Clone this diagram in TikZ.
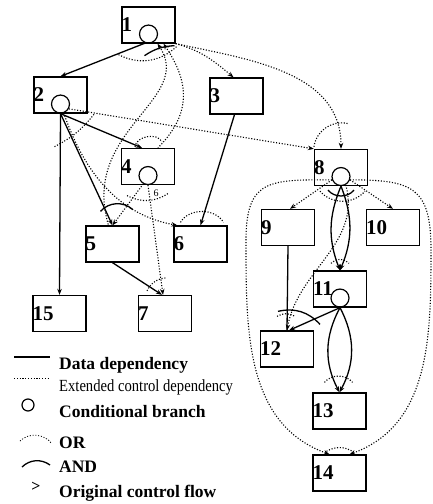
\documentclass[tikz,border=0pt]{standalone}
\usepackage{fontspec}
\setmainfont{Liberation Serif}
\usetikzlibrary{arrows.meta}
\begin{document}
\begin{tikzpicture}[>={Stealth[length=6pt,width=4.5pt]}, x=1pt, y=-1pt,
  box/.style={draw, line width=1.3pt, minimum width=53pt, minimum height=36pt, inner sep=0pt},
  num/.style={anchor=west, inner sep=0pt, font=\fontsize{21}{21}\selectfont\bfseries},
  cond/.style={draw, circle, line width=1.2pt, minimum size=18pt, inner sep=0pt, anchor=south},
  data/.style={line width=1.3pt},
  ctrl/.style={line width=1.1pt, dash pattern=on 1.1pt off 1.7pt},
  legend/.style={anchor=base west, inner sep=0pt, font=\fontsize{17.5}{17.5}\selectfont\bfseries}]
\useasboundingbox (0,0) rectangle (432,504);
% Cac khoi lenh
\node[box] (b1) at (148.5,25) {};
\node[box] (b2) at (60.5,95) {};
\node[box] (b3) at (236.5,96) {};
\node[box] (b4) at (148,166.5) {};
\node[box] (b5) at (112.5,244) {};
\node[box] (b6) at (200.5,244) {};
\node[box] (b7) at (165,313.5) {};
\node[box] (b8) at (341,167.5) {};
\node[box] (b9) at (288,227.5) {};
\node[box] (b10) at (393,227.5) {};
\node[box] (b11) at (340,289) {};
\node[box] (b12) at (287,349) {};
\node[box] (b13) at (339.5,411) {};
\node[box] (b14) at (339.5,473) {};
\node[box] (b15) at (59.5,313.5) {};
\foreach \n in {1,...,15}
\node[num] (n\n) at (b\n.west) {\n};
% re nhanh co dieu kien
\foreach \k in {1,2,4,8,11}
\node[cond] (c\k) at (b\k.south) {};
% Phu thuoc du lieu
\draw[data,->] (c1.250) -- (b2.north);
\draw[data,->] (c2.south) -- ([xshift=-6pt]b4.north);
\draw[data,->] (c2.south) -- (b5.north);
\draw[data,->] (c2.south) -- (b15.north);
\draw[data,->] ([xshift=-2pt]b3.south) -- (b6.north);
\draw[data,->] (b5.south) -- ([xshift=-3pt]b7.north);
\draw[data,->] (c8.south) to[bend right=22] (b11.north);
\draw[data,->] (c8.south) to[bend left=22] (b11.north);
\draw[data,->] (c11.south) to[bend right=28] (b13.north);
\draw[data,->] (c11.south) to[bend left=28] (b13.north);
\draw[data,->] (c11.south) -- ([xshift=2pt]b12.north);
\draw[data] (b9.south) -- (b12.north);
% Phu thuoc dieu khien mo rong
\draw[ctrl,->] (b1.south east) to[out=-15,in=140] ([xshift=-3pt]b3.north);
\draw[ctrl,->] (b1.south east) to[out=-12,in=90] (b8.north);
\draw[ctrl,->] (c2.-30) -- (b8.north west);
\draw[ctrl,<-] ([xshift=9pt]b1.south) .. controls (195,100) and (80,130) .. ([xshift=-4pt]b5.north);
\draw[ctrl,<-] ([xshift=15pt]b1.south) .. controls (195,90) and (185,120) .. ([xshift=10pt]b4.north);
\draw[ctrl,->] (c2.-70) .. controls (85,175) and (120,215) .. ([xshift=4pt]b6.north west);
\draw[ctrl,->] (c4.240) -- (b5.north);
\draw[ctrl,->] (c4.south) -- ([xshift=-2pt]b7.north);
\node[font=\fontsize{10}{10}\selectfont, inner sep=0pt] (s6) at (156,193) {6};
\draw[ctrl,->] (c8.200) -- ([xshift=2pt]b9.north);
\draw[ctrl,->] (c8.-20) -- (b10.north);
\draw[ctrl,->] (c8.-60) to[out=-75,in=80] (b12.north);
\coordinate (wl) at (246,240);
\coordinate (wr) at (431,250);
\draw[ctrl,->] (c8.200) to[out=180,in=90,looseness=1.5] (wl) to[out=-90,in=160] ([xshift=-10pt]b14.north);
\draw[ctrl,->] (c8.-20) to[out=0,in=90,looseness=1.5] (wr) to[out=-90,in=20] ([xshift=10pt]b14.north);
% Cung OR / AND
\draw[ctrl] ([xshift=-30pt,yshift=-11pt]b1.south) to[bend right=35] ([xshift=28pt,yshift=-3pt]b1.south);
\draw[data] ([xshift=-4pt,yshift=-12pt]b1.south) to[bend left=15] ([xshift=26pt,yshift=-2pt]b1.south);
\draw[ctrl] ([xshift=-6pt,yshift=-33pt]c2.south) to[bend right=12] ([xshift=34pt]c2.south);
\draw[ctrl] ([xshift=-13pt,yshift=1pt]b4.north) to[bend left=75] ([xshift=14pt,yshift=6pt]b4.north);
\draw[ctrl] ([xshift=-21pt,yshift=-20pt]c4.center) to[bend right=30] ([xshift=20pt,yshift=-18pt]c4.center);
\draw[data] ([xshift=-12pt,yshift=14pt]b5.north) to[bend left=45] ([xshift=20pt,yshift=16pt]b5.north);
\draw[ctrl] ([xshift=-20pt,yshift=3pt]b6.north) to[bend left=60] ([xshift=23pt,yshift=3pt]b6.north);
\draw[ctrl] ([xshift=-18pt,yshift=4pt]b7.north) to[bend left=30] ([xshift=2pt,yshift=17pt]b7.north);
\draw[ctrl] ([xshift=-27pt,yshift=2pt]b8.north) to[bend left=50] ([xshift=8pt,yshift=25pt]b8.north);
\draw[ctrl] ([xshift=-21pt,yshift=-5pt]b8.south) to[bend right=50] ([xshift=24pt,yshift=-5pt]b8.south);
\draw[data] ([xshift=-13pt,yshift=-4pt]b8.south) to[bend right=50] ([xshift=13pt,yshift=-4pt]b8.south);
\draw[ctrl] ([xshift=-9pt,yshift=7pt]b11.north) to[bend left=50] ([xshift=9pt,yshift=7pt]b11.north);
\draw[data] ([xshift=-9pt,yshift=19pt]b12.north) to[bend left=30] ([xshift=33pt,yshift=6pt]b12.north);
\draw[ctrl] ([xshift=-10pt,yshift=14pt]b12.north) to[bend left=30] ([xshift=8pt,yshift=14pt]b12.north);
\draw[ctrl] ([xshift=-15pt,yshift=10pt]b13.north) to[bend left=50] ([xshift=13pt,yshift=10pt]b13.north);
\draw[ctrl] ([xshift=-13pt,yshift=3pt]b14.north) to[bend left=30] ([xshift=13pt,yshift=3pt]b14.north);
% Chu thich
\draw[data] (14,357) -- (50,357);
\draw[ctrl, line width=0.8pt] (14,378) -- (50,378);
\node[cond, anchor=center, minimum size=12pt] (lc) at (28,405) {};
\draw[ctrl, line width=0.8pt] (20,441) to[bend left=50] (52,444);
\draw[data] (22,467) to[bend left=40] (50,465);
\node[font=\fontsize{16}{16}\selectfont\bfseries, inner sep=0pt] (lt) at (36,487) {>};
\node[legend] (t1) at (59,369) {Data dependency};
\node[legend, font=\fontsize{17}{17}\selectfont] (t2) at (59,391) {\scalebox{0.86}[1]{Extended control dependency}};
\node[legend] (t3) at (59,417) {Conditional branch};
\node[legend] (t4) at (59,448) {OR};
\node[legend] (t5) at (59,472) {AND};
\node[legend] (t6) at (59,497) {Original control flow};
\end{tikzpicture}
\end{document}
